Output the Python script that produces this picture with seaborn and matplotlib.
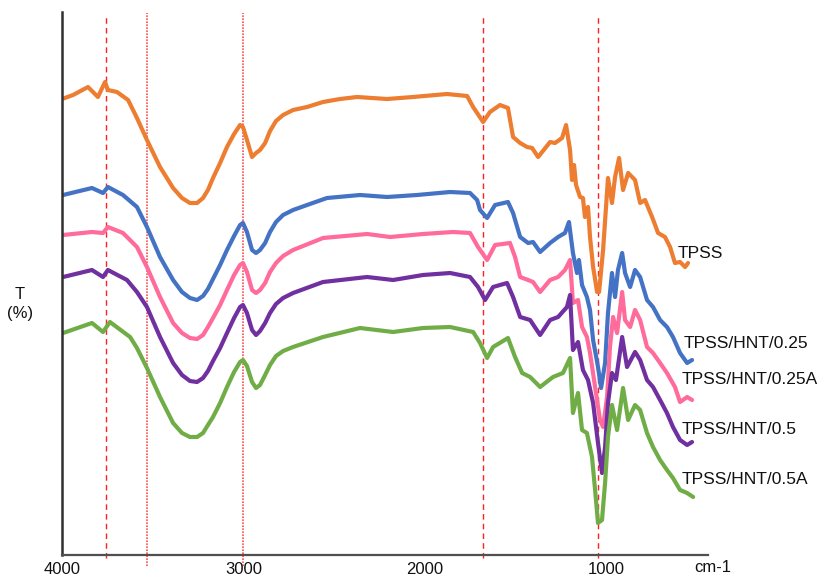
import matplotlib
matplotlib.use("Agg")
import matplotlib.pyplot as plt
import seaborn as sns
import pandas as pd

sns.set_theme(style="white")
plt.rcParams['font.family'] = ['Liberation Sans', 'DejaVu Sans']

# ---- data (wavenumber cm-1, transmittance in arbitrary offset units) ----
tpss_wn = [4000, 3939, 3857, 3802, 3763, 3747, 3697, 3636, 3587, 3532, 3460, 3388, 3339, 3295, 3256,
           3223, 3196, 3168, 3129, 3091, 3052, 3019, 3003, 2981, 2953, 2931, 2909, 2881, 2854, 2821,
           2782, 2727, 2650, 2562, 2468, 2375, 2209, 2066,
           1879, 1768, 1735, 1713, 1680, 1642, 1587, 1543, 1515, 1476, 1438, 1410, 1377, 1311, 1284,
           1245, 1223, 1201, 1190, 1179, 1168, 1146, 1130, 1119, 1102, 1091, 1074, 1052, 1041, 1019,
           992, 970, 953, 931, 909, 881, 843, 815, 788, 749, 716, 678, 650, 623, 595, 567, 551]
tpss_t = [91.2, 92.0, 93.6, 91.6, 94.6, 93.0, 92.6, 91.0, 87.4, 83.0, 77.6, 73.4, 71.4, 70.4, 70.4,
          71.4, 73.0, 75.4, 78.4, 81.6, 84.2, 86.0, 85.6, 83.0, 79.6, 80.4, 81.0, 82.4, 84.8, 86.8,
          88.0, 89.0, 89.6, 90.6, 91.2, 91.6, 91.2, 91.6,
          92.2, 91.8, 89.6, 88.4, 86.6, 88.6, 90.0, 89.4, 83.6, 82.4, 81.6, 81.4, 79.6, 82.6, 82.4,
          83.4, 86.0, 81.0, 75.0, 78.0, 74.0, 71.6, 71.4, 67.6, 69.6, 63.6, 57.6, 52.6, 52.6, 61.0,
          75.4, 70.4, 75.6, 79.4, 73.0, 76.4, 75.0, 70.4, 71.0, 67.6, 64.4, 63.6, 61.6, 58.4, 58.6, 57.6, 58.4]

hnt025_wn = [3994, 3835, 3774, 3747, 3664, 3587, 3532, 3460, 3388, 3339, 3295, 3256, 3223, 3196, 3168,
             3129, 3091, 3052, 3019, 3003, 2981, 2953, 2931, 2909, 2881, 2854, 2821, 2782, 2727,
             2650, 2540, 2358, 2209, 2044, 1862, 1752, 1713, 1697, 1658,
             1614, 1543, 1515, 1476, 1432, 1405, 1366, 1311, 1267, 1229, 1207, 1185, 1163, 1152, 1135,
             1108, 1091, 1074, 1047, 1030, 1008, 992, 970, 953, 937, 914, 898, 870, 843, 815, 777, 744,
             705, 667, 634, 595, 556, 529]
hnt025_t = [72.0, 73.4, 72.4, 73.6, 72.0, 69.6, 65.6, 59.6, 55.0, 52.6, 51.4, 51.0, 51.8, 53.2, 55.2,
            58.0, 61.0, 63.8, 66.0, 66.4, 64.6, 61.0, 60.4, 61.0, 62.4, 64.6, 66.6, 68.0, 69.0,
            70.0, 71.4, 72.0, 71.6, 72.0, 72.6, 72.4, 71.0, 69.0, 67.4,
            70.0, 70.6, 68.4, 63.6, 62.4, 62.6, 60.6, 62.4, 63.6, 64.4, 66.6, 60.4, 56.4, 59.0, 54.0,
            51.6, 49.0, 43.0, 37.6, 33.4, 38.4, 48.4, 56.4, 51.6, 57.0, 60.4, 56.4, 53.6, 57.0, 55.6, 51.0, 49.6,
            47.0, 45.6, 43.6, 40.4, 38.4, 39.0]

hnt025a_wn = [3994, 3835, 3774, 3747, 3664, 3587, 3532, 3460, 3388, 3339, 3295, 3256, 3223, 3196, 3168,
              3129, 3091, 3052, 3019, 3003, 2981, 2953, 2931, 2909, 2881, 2854, 2821, 2782, 2727,
              2562, 2319, 2193, 2011, 1846, 1752, 1708, 1658, 1614, 1532, 1504,
              1476, 1432, 1405, 1366, 1311, 1267, 1229, 1201, 1185, 1157, 1135, 1108, 1091, 1063, 1036,
              1019, 997, 981, 964, 942, 914, 898, 870, 843, 815, 777, 744, 705, 667, 623, 595, 556, 529]
hnt025a_t = [64.0, 64.6, 64.4, 65.6, 64.4, 61.6, 57.6, 51.6, 46.4, 44.4, 43.4, 43.2, 44.0, 45.6, 47.4,
             50.0, 53.0, 56.0, 58.0, 58.4, 56.6, 53.0, 52.4, 53.0, 54.4, 56.6, 58.4, 59.8, 61.0,
             63.4, 64.2, 63.6, 64.2, 64.6, 64.4, 61.6, 59.0, 62.0, 62.4, 59.6,
             55.6, 55.0, 54.6, 52.6, 55.0, 55.6, 57.0, 59.0, 50.4, 51.0, 45.6, 43.6, 40.4, 33.6, 27.0,
             25.6, 31.6, 41.6, 47.6, 44.4, 52.6, 47.0, 45.6, 49.0, 47.0, 41.6, 40.4, 38.4, 36.4, 33.6, 30.6, 31.6, 31.0]

hnt05_wn = [3994, 3835, 3774, 3747, 3642, 3587, 3532, 3460, 3388, 3339, 3295, 3256, 3223, 3196, 3168,
            3129, 3091, 3052, 3019, 3003, 2981, 2953, 2931, 2909, 2881, 2854, 2821, 2782, 2727,
            2562, 2319, 2176, 2011, 1862, 1752, 1708, 1669, 1625, 1548,
            1515, 1476, 1421, 1366, 1311, 1267, 1218, 1201, 1185, 1157, 1130, 1102, 1074, 1047, 1025,
            1008, 992, 970, 948, 914, 887, 843, 815, 777, 744, 705, 667, 634, 595, 556, 529]
hnt05_t = [55.6, 57.0, 55.6, 57.0, 55.0, 52.6, 49.6, 43.6, 38.4, 36.0, 34.8, 34.6, 35.4, 36.8, 38.8,
           41.4, 44.4, 47.4, 49.6, 50.0, 48.4, 45.0, 44.0, 44.8, 46.4, 48.4, 50.2, 51.4, 52.4,
           54.6, 55.6, 55.0, 56.0, 56.4, 55.6, 53.6, 51.0, 53.6, 54.4,
           51.6, 47.6, 47.0, 44.0, 47.0, 47.6, 49.6, 52.0, 41.0, 42.6, 37.0, 35.0, 30.4, 22.4, 16.4,
           21.6, 30.4, 36.4, 35.0, 43.6, 37.6, 40.6, 39.0, 35.0, 33.6, 31.0, 28.4, 25.6, 23.0, 22.0, 22.6]

hnt05a_wn = [3994, 3835, 3774, 3736, 3625, 3587, 3532, 3460, 3388, 3339, 3295, 3256, 3223, 3196, 3168,
             3129, 3091, 3052, 3019, 3003, 2981, 2953, 2931, 2909, 2881, 2854, 2821, 2782, 2727,
             2562, 2358, 2176, 2011, 1862, 1735, 1697, 1658, 1625, 1543, 1504,
             1465, 1421, 1366, 1295, 1240, 1201, 1185, 1157, 1135, 1108, 1080, 1063, 1047, 1025, 1008,
             992, 970, 942, 909, 881, 843, 815, 777, 744, 705, 667, 634, 595, 556, 523]
hnt05a_t = [44.4, 46.4, 44.6, 46.6, 43.6, 41.4, 37.4, 31.6, 26.4, 24.4, 23.6, 23.6, 24.4, 26.0, 27.6,
            30.4, 33.6, 36.6, 38.6, 39.0, 37.8, 34.6, 33.4, 34.0, 36.0, 38.0, 39.8, 40.8, 41.6,
            43.6, 45.4, 44.6, 45.4, 45.6, 44.6, 42.4, 39.4, 41.6, 43.4, 39.6,
            36.4, 35.6, 33.6, 35.6, 36.4, 39.4, 28.4, 32.4, 25.0, 24.4, 19.6, 13.0, 6.4, 7.0, 14.4,
            23.6, 30.0, 25.0, 33.4, 27.0, 30.0, 29.0, 24.4, 21.6, 19.0, 17.0, 15.4, 13.0, 12.4, 11.6]

series_names = ["TPSS", "TPSS/HNT/0.25", "TPSS/HNT/0.25A", "TPSS/HNT/0.5", "TPSS/HNT/0.5A"]
series_wn = [tpss_wn, hnt025_wn, hnt025a_wn, hnt05_wn, hnt05a_wn]
series_t = [tpss_t, hnt025_t, hnt025a_t, hnt05_t, hnt05a_t]
colors = ["#ED7D31", "#4472C4", "#FF6B9A", "#7030A0", "#70AD47"]

# label anchor positions (data coords)
label_x = [606, 578, 584, 584, 589]
label_y = [60.4, 42.4, 35.0, 25.0, 15.0]

dashed_lines = [3758, 1680, 1047]
dotted_lines = [3532, 3003]

xticks = [4000, 3000, 2000, 1000]

# ---- figure ----
fig = plt.figure(figsize=(8.2, 5.76), dpi=100)
ax = fig.add_axes([62/820, 21/576, (708-62)/820, (555-12)/576])

for name, wn, t, c in zip(series_names, series_wn, series_t, colors):
    df = pd.DataFrame({"wn": wn, "T": t})
    sns.lineplot(data=df, x="wn", y="T", color=c, lw=3.0, ax=ax,
                 estimator=None, sort=False, solid_joinstyle="round", solid_capstyle="round")

for x in dashed_lines:
    ax.axvline(x, ymin=-0.006, ymax=0.991, color="#FF2020", lw=1.0,
               ls=(0, (4, 3)), clip_on=False, zorder=0.5)
for x in dotted_lines:
    ax.axvline(x, ymin=-0.020, ymax=0.998, color="#FF5050", lw=1.2,
               ls=(0, (1, 0.8)), clip_on=False, zorder=0.5)

for name, lx, ly in zip(series_names, label_x, label_y):
    ax.text(lx, ly, name, fontsize=12.5, color="#111111", ha="left", va="center")

ax.set_xlim(4000, 441)
ax.set_ylim(0, 108.6)
ax.set_xticks(xticks)
ax.set_xticklabels([str(v) for v in xticks], fontsize=12, color="#111111")
ax.set_yticks([])
ax.tick_params(axis="x", length=0, pad=5)
ax.set_xlabel("")
ax.set_ylabel("")

for s in ["top", "right"]:
    ax.spines[s].set_visible(False)
ax.spines["left"].set_color("#303030")
ax.spines["left"].set_linewidth(1.8)
ax.spines["bottom"].set_color("#505050")
ax.spines["bottom"].set_linewidth(1.6)

fig.text(713/820, 1 - 567/576, "cm-1", fontsize=12, ha="center", va="center", color="#111111")
fig.text(20/820, 1 - 304/576, "T\n(%)", fontsize=12, ha="center", va="center",
         color="#111111", linespacing=1.35)

fig.savefig("out.png", dpi=100)
